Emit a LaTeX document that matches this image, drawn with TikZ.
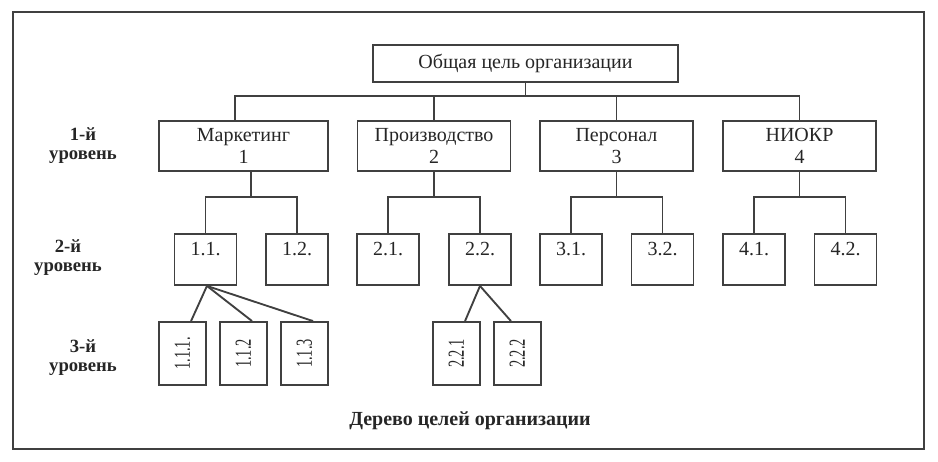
\documentclass[tikz,border=0pt]{standalone}
\usepackage{fontspec}
\setmainfont{Liberation Serif}
\usepackage{graphicx}
\tikzset{>=latex}
\newcommand{\uptext}[1]{\rotatebox{90}{\scalebox{0.72}[1.15]{#1}}}

\begin{document}
\begin{tikzpicture}[x=0.75pt, y=-0.75pt, line width=1.4pt, draw=black!75,
    every node/.style={text=black!85, font=\fontsize{15}{16}\selectfont, inner sep=0pt, align=center},
    goalbox/.style={rectangle, draw, minimum width=228.75pt, minimum height=27.75pt},
    firstbox/.style={rectangle, draw, minimum width=114.75pt, minimum height=37.5pt},
    secondbox/.style={rectangle, draw, minimum width=46.5pt, minimum height=38.25pt},
    thirdbox/.style={rectangle, draw, minimum width=35.25pt, minimum height=47.25pt},
    levellabel/.style={font=\fontsize{14}{14.25}\selectfont\bfseries}]
      \useasboundingbox (0,0) rectangle (938,461);
      \draw[line width=1.6pt] (13,12) rectangle (924,449);
      % goal and first level
      \node[goalbox] (goal) at (525.5,63.5) {Общая цель организации};
      \node[firstbox, minimum width=126.75pt] (m1) at (243.5,146) {Маркетинг\\1};
      \node[firstbox] (m2) at (434,146) {Производство\\2};
      \node[firstbox] (m3) at (616.5,146) {Персонал\\3};
      \node[firstbox] (m4) at (799.5,146) {НИОКР\\4};
      % second level
      \node[secondbox] (n11) at (205.5,259.5) {1.1.\\~};
      \node[secondbox] (n12) at (297,259.5) {1.2.\\~};
      \node[secondbox] (n21) at (388,259.5) {2.1.\\~};
      \node[secondbox] (n22) at (480,259.5) {2.2.\\~};
      \node[secondbox] (n31) at (571,259.5) {3.1.\\~};
      \node[secondbox] (n32) at (662.5,259.5) {3.2.\\~};
      \node[secondbox] (n41) at (754,259.5) {4.1.\\~};
      \node[secondbox] (n42) at (845.5,259.5) {4.2.\\~};
      % third level
      \node[thirdbox] (k111) at (182.5,353.5) {\uptext{1.1.1.}};
      \node[thirdbox] (k112) at (243.5,353.5) {\uptext{1.1.2}};
      \node[thirdbox] (k113) at (304.5,353.5) {\uptext{1.1.3}};
      \node[thirdbox] (k221) at (456.5,353.5) {\uptext{2.2.1}};
      \node[thirdbox] (k222) at (517.5,353.5) {\uptext{2.2.2}};
      % level labels and caption
      \node[levellabel] (lev1) at (83,146) {1-й\\уровень};
      \node[levellabel] (lev2) at (68,257.5) {2-й\\уровень};
      \node[levellabel] (lev3) at (83,357.5) {3-й\\уровень};
      \node[font=\fontsize{15}{16}\selectfont\bfseries] (title) at (470,421) {Дерево целей организации};
      % connectors
      \draw (goal.south) -- ++(0,13) coordinate (j0);
      \draw (j0) -| ([xshift=-6.4pt]m1.north);
      \draw (j0) -| (m2.north);
      \draw (j0) -| (m3.north);
      \draw (j0) -| (m4.north);
      \draw ([xshift=5.6pt]m1.south) -- ++(0,25) coordinate (j1);
      \draw (j1) -| (n11.north);
      \draw (j1) -| (n12.north);
      \draw (m2.south) -- ++(0,25) coordinate (j2);
      \draw (j2) -| (n21.north);
      \draw (j2) -| (n22.north);
      \draw (m3.south) -- ++(0,25) coordinate (j3);
      \draw (j3) -| (n31.north);
      \draw (j3) -| (n32.north);
      \draw (m4.south) -- ++(0,25) coordinate (j4);
      \draw (j4) -| (n41.north);
      \draw (j4) -| (n42.north);
      \draw ([xshift=1.1pt]n11.south) -- ([xshift=6.4pt]k111.north);
      \draw ([xshift=1.1pt]n11.south) -- ([xshift=6.4pt]k112.north);
      \draw ([xshift=1.1pt]n11.south) -- ([xshift=6.4pt]k113.north);
      \draw (n22.south) -- ([xshift=6.4pt]k221.north);
      \draw (n22.south) -- ([xshift=-4.9pt]k222.north);
    \end{tikzpicture}
\end{document}
